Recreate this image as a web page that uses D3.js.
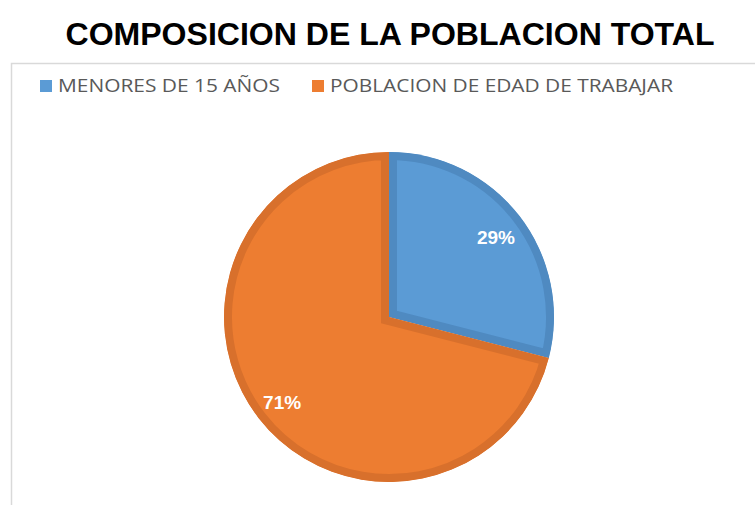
<!DOCTYPE html>
<html>
<head>
<meta charset="utf-8">
<script src="https://cdn.jsdelivr.net/npm/d3@7"></script>
<style>
  body { margin: 0; background: #fff; }
  svg { display: block; }
</style>
</head>
<body>
<div id="chart"></div>
<script>
const categories = ["MENORES DE 15 AÑOS", "POBLACION DE EDAD DE TRABAJAR"];
const values = [29, 71];
const labels = ["29%", "71%"];
const fills = ["#5b9bd5", "#ed7d31"];
const edges = ["#4f8ac1", "#d8702c"];

const width = 755;
const height = 505;

const svg = d3.select("#chart").append("svg")
    .attr("width", width)
    .attr("height", height);

// chart area frame (runs off the right and bottom)
svg.append("rect")
    .attr("x", 11.5)
    .attr("y", 63.5)
    .attr("width", 760)
    .attr("height", 460)
    .attr("fill", "none")
    .attr("stroke", "#d9d9d9")
    .attr("stroke-width", 1.5);

svg.append("text")
    .attr("x", 390)
    .attr("y", 45)
    .attr("text-anchor", "middle")
    .attr("font-family", "Liberation Sans, Arial, sans-serif")
    .attr("font-weight", "bold")
    .attr("font-size", 31)
    .attr("textLength", 649)
    .attr("lengthAdjust", "spacingAndGlyphs")
    .attr("fill", "#000")
    .text("COMPOSICION DE LA POBLACION TOTAL");

// legend
const legendX = [40, 312];
const legendW = [222, 343];
const legend = svg.append("g")
    .selectAll("g")
    .data(categories)
    .join("g")
    .attr("transform", (d, i) => `translate(${legendX[i]},80)`);

legend.append("rect")
    .attr("width", 12)
    .attr("height", 12)
    .attr("fill", (d, i) => fills[i]);

legend.append("text")
    .attr("x", 18)
    .attr("y", 12)
    .attr("font-family", "Open Sans, sans-serif")
    .attr("font-size", 18)
    .attr("fill", "#595959")
    .attr("textLength", (d, i) => legendW[i])
    .attr("lengthAdjust", "spacingAndGlyphs")
    .text(d => d);

// pie
const cx = 389, cy = 317, r = 165;
const pie = d3.pie().sort(null).value(d => d);
const arcs = pie(values);
const arc = d3.arc().innerRadius(0).outerRadius(r);
const labelArc = d3.arc().innerRadius(r * 0.82).outerRadius(r * 0.82);

const g = svg.append("g").attr("transform", `translate(${cx},${cy})`);
const defs = svg.append("defs");

arcs.forEach((a, i) => {
    defs.append("clipPath")
        .attr("id", "clip" + i)
        .append("path")
        .attr("d", arc(a));
});

g.selectAll("path.slice")
    .data(arcs)
    .join("path")
    .attr("class", "slice")
    .attr("d", arc)
    .attr("fill", (d, i) => fills[i])
    .attr("stroke", (d, i) => edges[i])
    .attr("stroke-width", 16)
    .attr("stroke-linejoin", "miter")
    .attr("clip-path", (d, i) => `url(#clip${i})`);

g.selectAll("text.lbl")
    .data(arcs)
    .join("text")
    .attr("class", "lbl")
    .attr("transform", d => `translate(${labelArc.centroid(d)})`)
    .attr("text-anchor", "middle")
    .attr("dy", "0.5em")
    .attr("font-family", "Liberation Sans, Arial, sans-serif")
    .attr("font-weight", "bold")
    .attr("font-size", 19)
    .attr("fill", "#fff")
    .text((d, i) => labels[i]);
</script>
</body>
</html>
